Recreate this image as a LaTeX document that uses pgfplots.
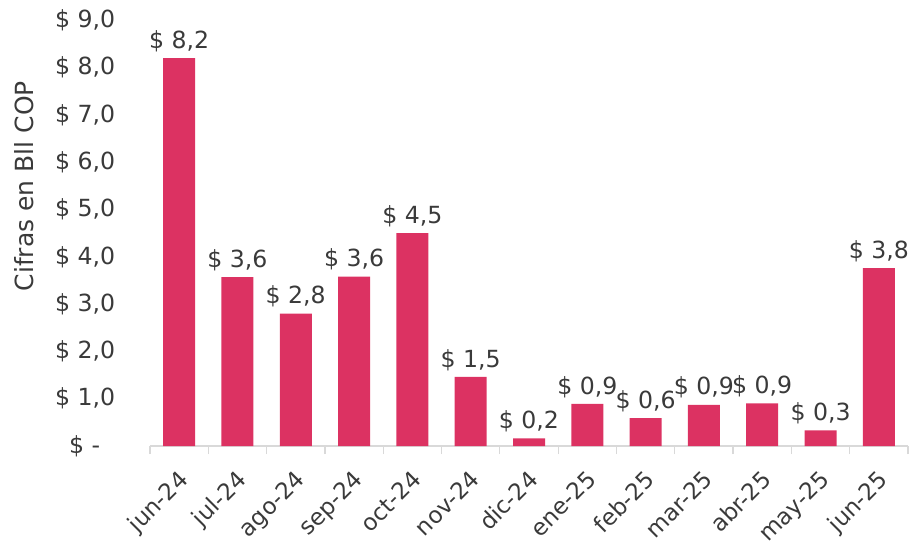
\documentclass[border=0pt]{standalone}
\usepackage{pgfplots}
\pgfplotsset{compat=1.18}
\usepackage{fontspec}
\setmainfont{DejaVu Sans}
\definecolor{barc}{HTML}{DC3262}
\definecolor{axc}{HTML}{D9D9D9}
\definecolor{txt}{HTML}{3A3A3A}
\begin{document}
\begin{tikzpicture}
\begin{axis}[
 at={(0,0)}, anchor=south west,
 scale only axis, width=379pt, height=212.9pt,
 xmin=-0.5, xmax=12.5, ymin=0, ymax=9,
 axis lines*=left,
 y axis line style={draw=none},
 x axis line style={axc, line width=0.8pt},
 ytick={0,1,...,9},
 yticklabels={{\$ -\phantom{0}},{\$ 1,0},{\$ 2,0},{\$ 3,0},{\$ 4,0},{\$ 5,0},{\$ 6,0},{\$ 7,0},{\$ 8,0},{\$ 9,0}},
 ytick style={draw=none},
 yticklabel style={anchor=east, inner sep=0pt, xshift=-13pt, font=\fontsize{11.8}{14}\selectfont, text=txt},
 xtick={0,1,...,12},
 xticklabels={jun-24,jul-24,ago-24,sep-24,oct-24,nov-24,dic-24,ene-25,feb-25,mar-25,abr-25,may-25,jun-25},
 major x tick style={draw=none},
 minor xtick={-0.5,0.5,...,12.5},
 minor x tick style={axc, line width=0.6pt},
 minor tick length=4pt,
 tick align=outside,
 x tick label style={xshift=-1pt, yshift=-7pt, rotate=45, anchor=north east, inner sep=0pt, font=\fontsize{11.5}{14}\selectfont, text=txt},
 ylabel={Cifras en Bll COP},
 every axis y label/.style={at={(axis description cs:-0.166,0.61)}, rotate=90, anchor=center, font=\fontsize{12.5}{15}\selectfont, text=txt},
 ybar, bar width=16pt,
 point meta=explicit symbolic,
 nodes near coords,
 every node near coord/.append style={font=\fontsize{11.8}{14}\selectfont, text=txt, anchor=south, inner sep=3pt},
 clip=false,
]
\addplot[fill=barc, draw=none] coordinates {
 (0,8.2) [{\$ 8,2}]
 (1,3.57) [{\$ 3,6}]
 (2,2.8) [{\$ 2,8}]
 (3,3.58) [{\$ 3,6}]
 (4,4.5) [{\$ 4,5}]
 (5,1.46) [{\$ 1,5}]
 (6,0.16) [{\$ 0,2}]
 (7,0.89) [{\$ 0,9}]
 (8,0.59) [{\$ 0,6}]
 (9,0.87) [{\$ 0,9}]
 (10,0.9) [{\$ 0,9}]
 (11,0.33) [{\$ 0,3}]
 (12,3.76) [{\$ 3,8}]
};
\end{axis}
\pgfresetboundingbox
\useasboundingbox (-75pt,-48.5pt) rectangle (383pt,223pt);
\end{tikzpicture}
\end{document}
